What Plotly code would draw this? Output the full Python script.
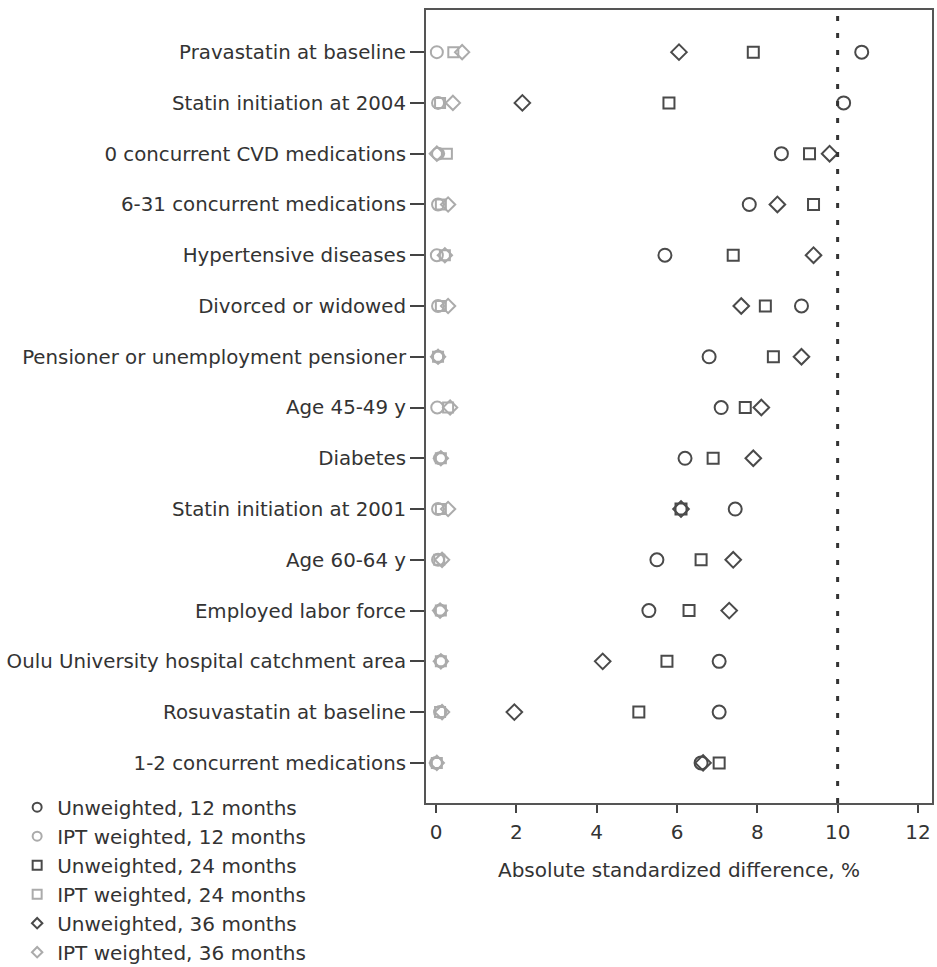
import plotly.graph_objects as go

categories = [
    "Pravastatin at baseline",
    "Statin initiation at 2004",
    "0 concurrent CVD medications",
    "6-31 concurrent medications",
    "Hypertensive diseases",
    "Divorced or widowed",
    "Pensioner or unemployment pensioner",
    "Age 45-49 y",
    "Diabetes",
    "Statin initiation at 2001",
    "Age 60-64 y",
    "Employed labor force",
    "Oulu University hospital catchment area",
    "Rosuvastatin at baseline",
    "1-2 concurrent medications",
]

unweighted_12 = [10.6, 10.15, 8.6, 7.8, 5.7, 9.1, 6.8, 7.1, 6.2, 7.45, 5.5, 5.3, 7.05, 7.05, 6.6]
ipt_12 = [0.02, 0.05, 0.05, 0.05, 0.02, 0.05, 0.05, 0.03, 0.1, 0.05, 0.05, 0.1, 0.12, 0.1, 0.0]
unweighted_24 = [7.9, 5.8, 9.3, 9.4, 7.4, 8.2, 8.4, 7.7, 6.9, 6.1, 6.6, 6.3, 5.75, 5.05, 7.05]
ipt_24 = [0.43, 0.1, 0.27, 0.12, 0.22, 0.12, 0.05, 0.3, 0.12, 0.12, 0.08, 0.12, 0.12, 0.1, 0.02]
unweighted_36 = [6.05, 2.15, 9.8, 8.5, 9.4, 7.6, 9.1, 8.1, 7.9, 6.1, 7.4, 7.3, 4.15, 1.95, 6.65]
ipt_36 = [0.65, 0.42, 0.02, 0.3, 0.22, 0.3, 0.05, 0.35, 0.12, 0.3, 0.15, 0.1, 0.12, 0.15, 0.02]

threshold = 10
x_ticks = [0, 2, 4, 6, 8, 10, 12]

DARK = "#4a4a4a"
GRAY = "#ababab"
FONT = "DejaVu Sans"
FS = 20

series = [
    ("Unweighted, 12 months", unweighted_12, "circle-open", DARK, 13),
    ("IPT weighted, 12 months", ipt_12, "circle-open", GRAY, 12),
    ("Unweighted, 24 months", unweighted_24, "square-open", DARK, 11),
    ("IPT weighted, 24 months", ipt_24, "square-open", GRAY, 10),
    ("Unweighted, 36 months", unweighted_36, "diamond-open", DARK, 12),
    ("IPT weighted, 36 months", ipt_36, "diamond-open", GRAY, 11),
]

fig = go.Figure()
for name, vals, sym, col, sz in series:
    fig.add_trace(go.Scatter(
        x=vals, y=categories, mode="markers", showlegend=False,
        marker=dict(symbol=sym, size=sz, color=col, line=dict(color=col, width=2)),
        name=name,
    ))
for name, vals, sym, col, sz in series:
    fig.add_trace(go.Scatter(
        x=[None], y=[None], mode="markers", name=name,
        marker=dict(symbol=sym, size=9 if "diamond" not in sym else 8, color=col,
                    line=dict(color=col, width=2)),
    ))

fig.add_shape(type="line", xref="x", yref="paper", x0=threshold, x1=threshold, y0=0, y1=1,
              line=dict(color="#333333", width=3, dash="5px,12px"))

fig.update_layout(
    width=937, height=967,
    margin=dict(l=426, r=5, t=10, b=164, autoexpand=False),
    paper_bgcolor="white", plot_bgcolor="white",
    font=dict(family=FONT, size=FS, color="#333333"),
    xaxis=dict(
        range=[-0.25, 12.35], tickvals=x_ticks, ticks="outside", ticklen=8, tickwidth=2,
        tickcolor="#444444", showline=True, mirror=True, linecolor="#555555", linewidth=2,
        showgrid=False, zeroline=False, ticklabelstandoff=2, automargin=False,
        title=dict(text="Absolute standardized difference, %", standoff=20,
                   font=dict(family=FONT, size=FS, color="#333333")),
        tickfont=dict(family=FONT, size=FS, color="#333333"),
    ),
    yaxis=dict(
        type="category", categoryorder="array", categoryarray=categories,
        range=[14.79, -0.83], ticks="outside", ticklen=14, tickwidth=2, tickcolor="#444444",
        showline=True, mirror=True, linecolor="#555555", linewidth=2,
        showgrid=False, zeroline=False, automargin=False,
        tickfont=dict(family=FONT, size=19.8, color="#333333"),
    ),
    legend=dict(
        x=-0.808, xanchor="left", y=0.0193, yanchor="top",
        font=dict(family=FONT, size=FS, color="#333333"),
        tracegroupgap=0, itemwidth=30, bgcolor="rgba(0,0,0,0)",
    ),
)

fig.write_html("out.html", config={"displayModeBar": False},
               post_script="document.body.style.margin='0px';")
